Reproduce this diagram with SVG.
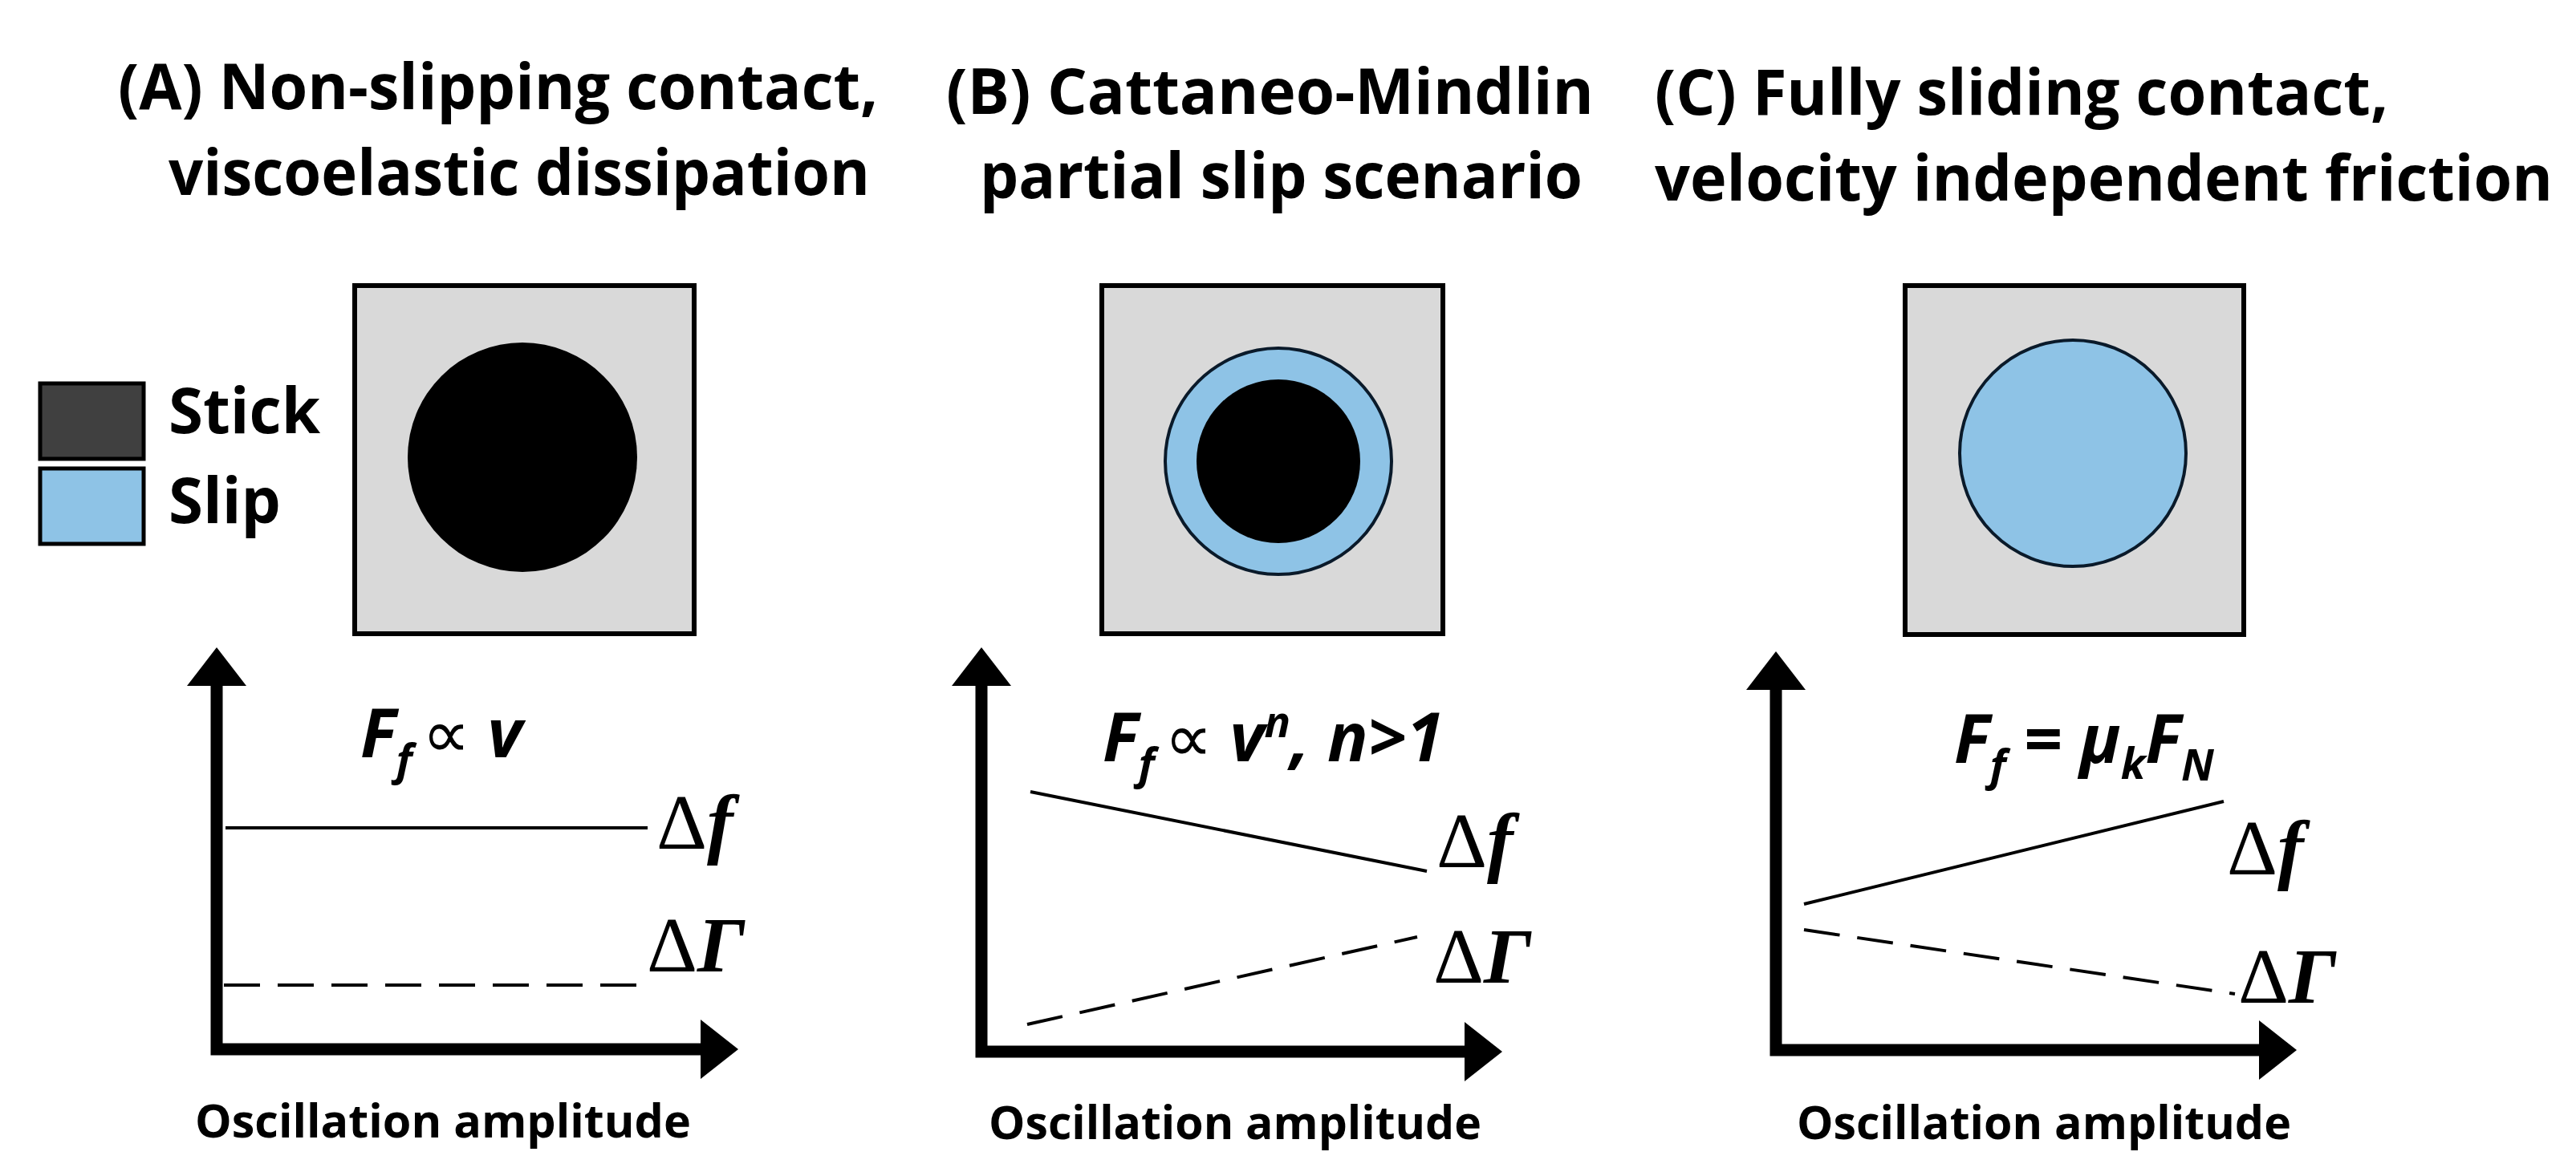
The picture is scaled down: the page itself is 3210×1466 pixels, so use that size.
<svg xmlns="http://www.w3.org/2000/svg" width="3210" height="1466" viewBox="0 0 3210 1466">
<style>
.t{font-family:"Open Sans","Liberation Sans",sans-serif;font-weight:bold;font-size:78px;fill:#000}
.ax{font-family:"Open Sans","Liberation Sans",sans-serif;font-weight:bold;font-size:58px;fill:#000}
.fm{font-family:"Open Sans","Liberation Sans",sans-serif;font-weight:bold;font-style:italic;font-size:84px;fill:#000}
.sub{font-size:54px}
.prop{font-weight:normal;font-style:normal}
.dl{font-family:"Liberation Serif",serif;font-size:98px;fill:#000}
.it{font-style:italic;font-weight:bold}
.box{fill:#d9d9d9;stroke:#000;stroke-width:6}
.axis{stroke:#000;stroke-width:15;fill:none}
.ln{stroke:#000;stroke-width:4;fill:none}
.dash{stroke-dasharray:45 22}
</style>
<rect width="3210" height="1466" fill="#fff"/>
<g id="legend">
<rect x="50" y="478" width="129" height="94" fill="#404040" stroke="#000" stroke-width="5"/>
<rect x="50" y="584" width="129" height="94" fill="#8ec3e6" stroke="#000" stroke-width="5"/>
<text class="t" x="210" y="540">Stick</text>
<text class="t" x="210" y="652">Slip</text>
</g>
<g id="titleA">
<text class="t" x="147" y="136" textLength="947" lengthAdjust="spacingAndGlyphs">(A) Non-slipping contact,</text>
<text class="t" x="210" y="243" textLength="874" lengthAdjust="spacingAndGlyphs">viscoelastic dissipation</text>
</g>
<g id="titleB">
<text class="t" x="1179" y="142" textLength="807" lengthAdjust="spacingAndGlyphs">(B) Cattaneo-Mindlin</text>
<text class="t" x="1221" y="247" textLength="751" lengthAdjust="spacingAndGlyphs">partial slip scenario</text>
</g>
<g id="titleC">
<text class="t" x="2062" y="143" textLength="914" lengthAdjust="spacingAndGlyphs">(C) Fully sliding contact,</text>
<text class="t" x="2062" y="250" textLength="1119" lengthAdjust="spacingAndGlyphs">velocity independent friction</text>
</g>
<g id="contactA">
<rect class="box" x="442" y="356" width="423" height="434"/>
<circle cx="651" cy="570" r="143" fill="#000"/>
</g>
<g id="contactB">
<rect class="box" x="1373" y="356" width="425" height="434"/>
<circle cx="1593" cy="575" r="141" fill="#8ec3e6" stroke="#0a1a2a" stroke-width="4"/>
<circle cx="1593" cy="575" r="102" fill="#000"/>
</g>
<g id="contactC">
<rect class="box" x="2374" y="356" width="422" height="435"/>
<circle cx="2583" cy="565" r="141" fill="#8ec3e6" stroke="#0a1a2a" stroke-width="4"/>
</g>
<g id="connectors">
<path class="axis" d="M270 850 V1308 H878"/>
<polygon points="270,807 233,855 307,855"/>
<polygon points="920,1308 873,1271 873,1345"/>
<path class="ln" d="M281 1032 H807"/>
<path class="ln dash" d="M279 1228 H812"/>
<path class="axis" d="M1223 850 V1311 H1830"/>
<polygon points="1223,807 1186,855 1260,855"/>
<polygon points="1872,1311 1825,1274 1825,1348"/>
<path class="ln" d="M1284 987 L1778 1086"/>
<path class="ln dash" d="M1280 1277 L1766 1168"/>
<path class="axis" d="M2213 855 V1309 H2820"/>
<polygon points="2213,812 2176,860 2250,860"/>
<polygon points="2862,1309 2815,1272 2815,1346"/>
<path class="ln" d="M2248 1127 L2771 999"/>
<path class="ln dash" d="M2248 1159 L2785 1239"/>
</g>
<g id="labelsA">
<text class="fm" x="449" y="944">F<tspan class="sub" dy="22">f</tspan><tspan class="prop" dy="-22" dx="12">∝</tspan> v</text>
<text class="dl" x="818" y="1058">Δ<tspan class="it">f</tspan></text>
<text class="dl" x="806" y="1211">Δ<tspan class="it">Γ</tspan></text>
<text class="ax" x="243" y="1418" textLength="618" lengthAdjust="spacingAndGlyphs">Oscillation amplitude</text>
</g>
<g id="labelsB">
<text class="fm" x="1374" y="949">F<tspan class="sub" dy="22">f</tspan><tspan class="prop" dy="-22" dx="12">∝</tspan> v<tspan class="sub" dy="-30">n</tspan><tspan dy="30">, n&gt;1</tspan></text>
<text class="dl" x="1790" y="1081">Δ<tspan class="it">f</tspan></text>
<text class="dl" x="1786" y="1225">Δ<tspan class="it">Γ</tspan></text>
<text class="ax" x="1232" y="1420" textLength="614" lengthAdjust="spacingAndGlyphs">Oscillation amplitude</text>
</g>
<g id="labelsC">
<text class="fm" x="2435" y="951">F<tspan class="sub" dy="22">f</tspan><tspan dy="-22"> = μ</tspan><tspan class="sub" dy="20">k</tspan><tspan dy="-20">F</tspan><tspan class="sub" dy="22">N</tspan></text>
<text class="dl" x="2775" y="1090">Δ<tspan class="it">f</tspan></text>
<text class="dl" x="2789" y="1250">Δ<tspan class="it">Γ</tspan></text>
<text class="ax" x="2239" y="1420" textLength="616" lengthAdjust="spacingAndGlyphs">Oscillation amplitude</text>
</g>
</svg>
